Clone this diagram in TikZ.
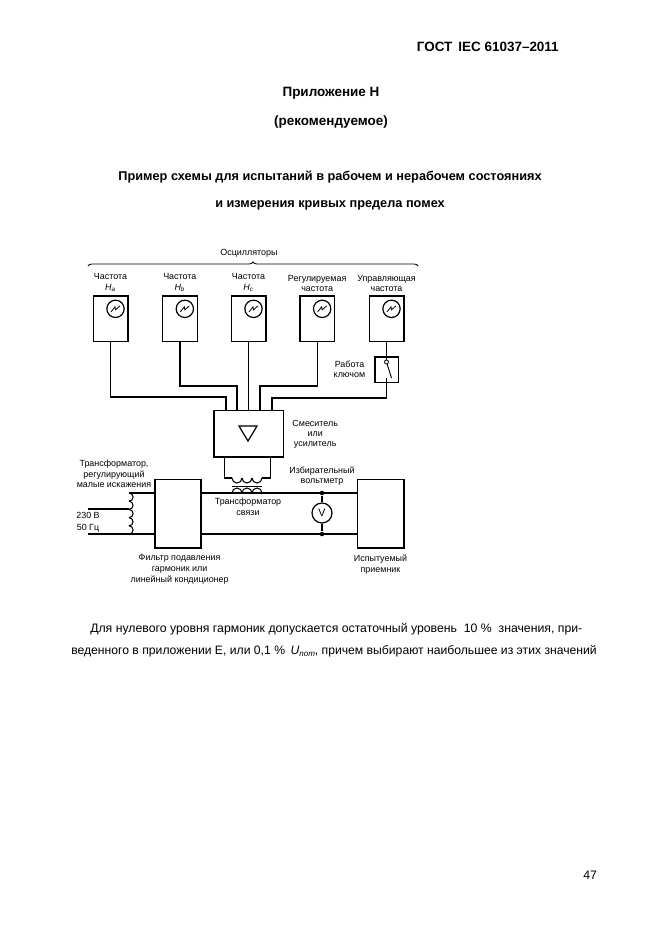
\documentclass[tikz,border=0pt]{standalone}
\usepackage{fontspec}
\setmainfont{Liberation Sans}
\usetikzlibrary{positioning, arrows.meta, calc, decorations.pathreplacing}
\newcommand{\fpx}[1]{\fontsize{#1}{#1}\selectfont}

\begin{document}
\begin{tikzpicture}[
  x=0.75pt, y=-0.75pt,
  node distance=26pt,
  wire/.style={line width=1pt},
  osc/.style={draw, line width=1pt, minimum width=26pt, minimum height=34pt, inner sep=0pt, outer sep=0pt},
  gen/.style={draw, circle, line width=0.9pt, minimum size=13pt, inner sep=0pt},
  block/.style={draw, line width=1pt, inner sep=0pt, outer sep=0pt},
  lab/.style={font=\fpx{6.7}, align=center, inner sep=0pt},
  head/.style={font=\fpx{10.1}\bfseries, inner sep=0pt},
  title/.style={font=\fpx{9.55}\bfseries, inner sep=0pt},
  body/.style={font=\fpx{9.2}, inner sep=0pt, anchor=base west},
  dot/.style={circle, fill=black, minimum size=3.4pt, inner sep=0pt},
]
  \useasboundingbox (0,0) rectangle (661,936);
  % page text
  \node[head, anchor=base east] (gost) at (559,51) {ГОСТ\, IEC 61037–2011};
  \node[head] (annex) at (331,93) {Приложение Н};
  \node[head] (rec) at (331,122) {(рекомендуемое)};
  \node[title] (title1) at (330,177) {Пример схемы для испытаний в рабочем и нерабочем состояниях};
  \node[title] (title2) at (330,205) {и измерения кривых предела помех};
  \node[body] (par1) at (90,632) {Для нулевого уровня гармоник допускается остаточный уровень\ \ 10 \%\ \ значения, при-};
  \node[body, font=\fpx{9.13}] (par2) at (71,654) {веденного в приложении Е, или 0,1 \%\, \textit{U}{\fpx{6}\raisebox{-1.5pt}{\textit{nom}}}, причем выбирают наибольшее из этих значений};
  \node[body] (pnum) at (583,879) {47};

  % oscillators
  \node[osc] (o1) at (110.5,318.5) {};
  \node[osc, right=of o1] (o2) {};
  \node[osc, right=25.5pt of o2] (o3) {};
  \node[osc, right=25.5pt of o3] (o4) {};
  \node[osc, right=of o4] (o5) {};
  \foreach \i in {1,...,5} {
    \node[gen] (g\i) at ($(o\i.north)+(5,13)$) {};
    \draw[line width=0.6pt] ($(g\i)+(-4.5,3)$) -- ($(g\i)+(-0.5,-2)$) -- ($(g\i)+(0,1)$) -- ($(g\i)+(4.5,-3)$);
  }
  \node[lab, above=3pt of o1] (l1) {Частота\\[1pt]\textit{H\textsubscript{a}}};
  \node[lab, above=3pt of o2] (l2) {Частота\\[1pt]\textit{H\textsubscript{b}}};
  \node[lab, above=3pt of o3] (l3) {Частота\\[1pt]\textit{H\textsubscript{c}}};
  \node[lab, above=3pt of o4] (l4) {Регулируемая\\[1pt]частота};
  \node[lab, above=3pt of o5] (l5) {Управляющая\\[1pt]частота};
  \coordinate (br1) at (88,266);
  \coordinate (br2) at (418,266);
  \draw[line width=0.6pt, decorate, decoration={brace, amplitude=3pt}] (br1) -- (br2);
  \node[lab] (oscs) at (249,253.5) {Осцилляторы};

  % keying
  \node[block, minimum width=17.5pt, minimum height=19pt] (sw) at (o5.south |- 0,369.5) {};
  \coordinate (sw1) at (o5.south |- 0,362);
  \coordinate (sw2) at ($(sw1)+(5,16)$);
  \coordinate (sw3) at (o5.south |- 0,378);
  \draw[wire] (o5.south) -- (sw1);
  \draw[line width=0.7pt] (sw1) -- (sw2);
  \node[circle, draw, fill=white, line width=0.6pt, minimum size=3pt, inner sep=0pt] (swc) at (sw1) {};
  \node[lab, left=7pt of sw] (swl) {Работа\\[1pt]ключом};

  % mixer
  \node[block, minimum width=52pt, minimum height=35pt] (mix) at (248.5,433.5) {};
  \draw[line width=0.9pt] (239,426) -- (257,426) -- (248,441) -- cycle;
  \node[lab, right=6.75pt of mix, yshift=-0.75pt] (mixl) {Смеситель\\[1pt]или\\[1pt]усилитель};
  \coordinate (m1) at (226,410);
  \coordinate (m2) at (237,410);
  \coordinate (m4) at (260,410);
  \coordinate (m5) at (272,410);
  \draw[wire] (o1.south) |- (226,397) -- (m1);
  \draw[wire] (o2.south) |- (237,386) -- (m2);
  \draw[wire] (o3.south) -- (mix.north);
  \draw[wire] (o4.south) |- (260,386) -- (m4);
  \draw[wire] (sw3) |- (272,398) -- (m5);

  % filter and receiver
  \node[block, minimum width=34.5pt, minimum height=51.5pt] (filt) at (178,513.5) {};
  \node[block, minimum width=35pt, minimum height=51.5pt] (recv) at (380.5,513.5) {};
  \node[lab, below=5pt of filt, xshift=1.2pt] (filtl) {Фильтр подавления\\[1.3pt]гармоник или\\[1.3pt]линейный кондиционер};
  \node[lab, below=5pt of recv] (recvl) {Испытуемый\\[1.3pt]приемник};
  \coordinate (fr1) at (201,493);
  \coordinate (rr1) at (357,493);
  \coordinate (fr2) at (201,534);
  \coordinate (rr2) at (357,534);
  \draw[wire] (fr1) -- (rr1);
  \draw[wire] (fr2) -- (rr2);

  % voltmeter
  \node[dot] (vt) at (322,493) {};
  \node[dot] (vb) at (322,534) {};
  \node[gen, minimum size=15pt, font=\fpx{8}] (vm) at (322,513) {V};
  \draw[wire] (vt) -- (vm);
  \draw[wire] (vm) -- (vb);
  \node[lab] (vml) at (322,476) {Избирательный\\[1pt]вольтметр};

  % coupling transformer
  \coordinate (c1) at (224.5,457);
  \coordinate (c2) at (270.5,457);
  \draw[wire] (c1) -- (224.5,478) -- (232,478);
  \draw[wire] (c2) -- (270.5,478) -- (262,478);
  \foreach \i in {0,...,2} {
    \draw[line width=0.8pt] (232+10*\i,478) arc[start angle=180, end angle=0, radius=5];
    \draw[line width=0.8pt] (232+10*\i,493) arc[start angle=180, end angle=360, radius=5];
  }
  \draw[line width=0.6pt] (232,486) -- (262,486);
  \node[lab] (trl) at (248,506.5) {Трансформатор\\[1.5pt]связи};

  % line transformer
  \coordinate (in1) at (88,509);
  \coordinate (in2) at (88,534);
  \coordinate (tt) at (129,509);
  \draw[wire] (in1) -- (tt);
  \draw[wire] (in2) -- (fr2 -| filt.west);
  \draw[wire] (129,493) -- (filt.west |- fr1);
  \foreach \i in {0,...,4} {
    \draw[line width=0.8pt] (129,493+8.2*\i) arc[start angle=-90, end angle=90, radius=4.1];
  }
  \node[lab] (ltl) at (114,474) {Трансформатор,\\[1.3pt]регулирующий\\[1.3pt]малые искажения};
  \node[lab] (mains) at (88,522) {230 В\\[2pt]50 Гц};
\end{tikzpicture}
\end{document}
